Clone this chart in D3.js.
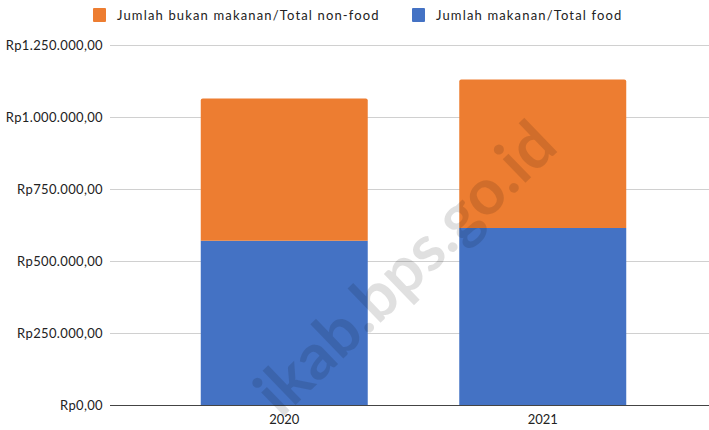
<!DOCTYPE html>
<html>
<head>
<meta charset="utf-8">
<script src="https://cdn.jsdelivr.net/npm/d3@7/dist/d3.min.js"></script>
<style>
  html, body { margin: 0; padding: 0; background: #fff; }
  svg { display: block; }
  text { font-family: Lato, "Open Sans", sans-serif; }
</style>
</head>
<body>
<div id="chart"></div>
<script>
const categories = ["2020", "2021"];
const foodValues = [570000, 615000];
const nonFoodValues = [494000, 515000];
const seriesNames = ["Jumlah bukan makanan/Total non-food", "Jumlah makanan/Total food"];
const seriesColors = ["#ED7D31", "#4472C4"];
const yTicks = [0, 250000, 500000, 750000, 1000000, 1250000];

const W = 709, H = 430;
const svg = d3.select("#chart").append("svg").attr("width", W).attr("height", H);

const x = d3.scaleBand().domain(categories).range([155, 672]).paddingInner(0.354).paddingOuter(0.177);
const y = d3.scaleLinear().domain([0, 1250000]).range([405, 45]);

const fmt = v => "Rp" + d3.format(",.2f")(v).replace(/,/g, "#").replace(/\./g, ",").replace(/#/g, ".");

// gridlines
svg.append("g").selectAll("line").data(yTicks.filter(t => t > 0)).join("line")
  .attr("x1", 110).attr("x2", W).attr("y1", d => y(d) + 0.5).attr("y2", d => y(d) + 0.5)
  .attr("stroke", "#d0d0d0").attr("stroke-width", 1);

// y labels
svg.append("g").selectAll("text").data(yTicks).join("text")
  .attr("x", 103).attr("y", d => y(d)).attr("dy", "0.35em")
  .attr("text-anchor", "end").attr("font-size", 13).attr("letter-spacing", "0.35px").attr("fill", "#222")
  .text(fmt);

// stacked data
const rows = categories.map((c, i) => ({ cat: c, food: foodValues[i], nonfood: nonFoodValues[i] }));
const stack = d3.stack().keys(["food", "nonfood"])(rows);
const colorFor = { food: seriesColors[1], nonfood: seriesColors[0] };

svg.append("g").selectAll("g").data(stack).join("g")
  .attr("fill", d => colorFor[d.key])
  .selectAll("path").data(d => d.map(p => ({ p, key: d.key }))).join("path")
  .attr("d", ({ p, key }) => {
    const x0 = x(p.data.cat), x1 = x0 + x.bandwidth();
    const yt = y(p[1]), yb = y(p[0]);
    const r = key === "nonfood" ? 2 : 0;
    return `M${x0},${yb}L${x0},${yt + r}Q${x0},${yt} ${x0 + r},${yt}L${x1 - r},${yt}Q${x1},${yt} ${x1},${yt + r}L${x1},${yb}Z`;
  });

// baseline
svg.append("line").attr("x1", 110).attr("x2", W).attr("y1", y(0) + 0.5).attr("y2", y(0) + 0.5)
  .attr("stroke", "#444").attr("stroke-width", 1);

// x labels
svg.append("g").selectAll("text").data(categories).join("text")
  .attr("x", d => x(d) + x.bandwidth() / 2).attr("y", 424)
  .attr("text-anchor", "middle").attr("font-size", 13).attr("fill", "#222")
  .text(d => d);

// legend
const legendItems = [
  { name: seriesNames[0], color: seriesColors[0], x: 93, tx: 117 },
  { name: seriesNames[1], color: seriesColors[1], x: 412, tx: 436 }
];
const lg = svg.append("g").selectAll("g").data(legendItems).join("g");
lg.append("rect").attr("x", d => d.x).attr("y", 8).attr("width", 13).attr("height", 14).attr("rx", 1)
  .attr("fill", d => d.color);
lg.append("text").attr("x", d => d.tx).attr("y", 15).attr("dy", "0.35em")
  .attr("font-size", 13).attr("letter-spacing", "1.15px").attr("fill", "#222")
  .text(d => d.name);

// watermark
svg.append("text")
  .attr("transform", "translate(405,268) rotate(-44)")
  .attr("text-anchor", "middle").attr("dy", "0.35em")
  .attr("font-size", 64).attr("font-weight", "bold")
  .attr("font-family", "'DejaVu Sans', sans-serif")
  .attr("fill", "#000").attr("fill-opacity", 0.12)
  .text("ikab.bps.go.id");
</script>
</body>
</html>
